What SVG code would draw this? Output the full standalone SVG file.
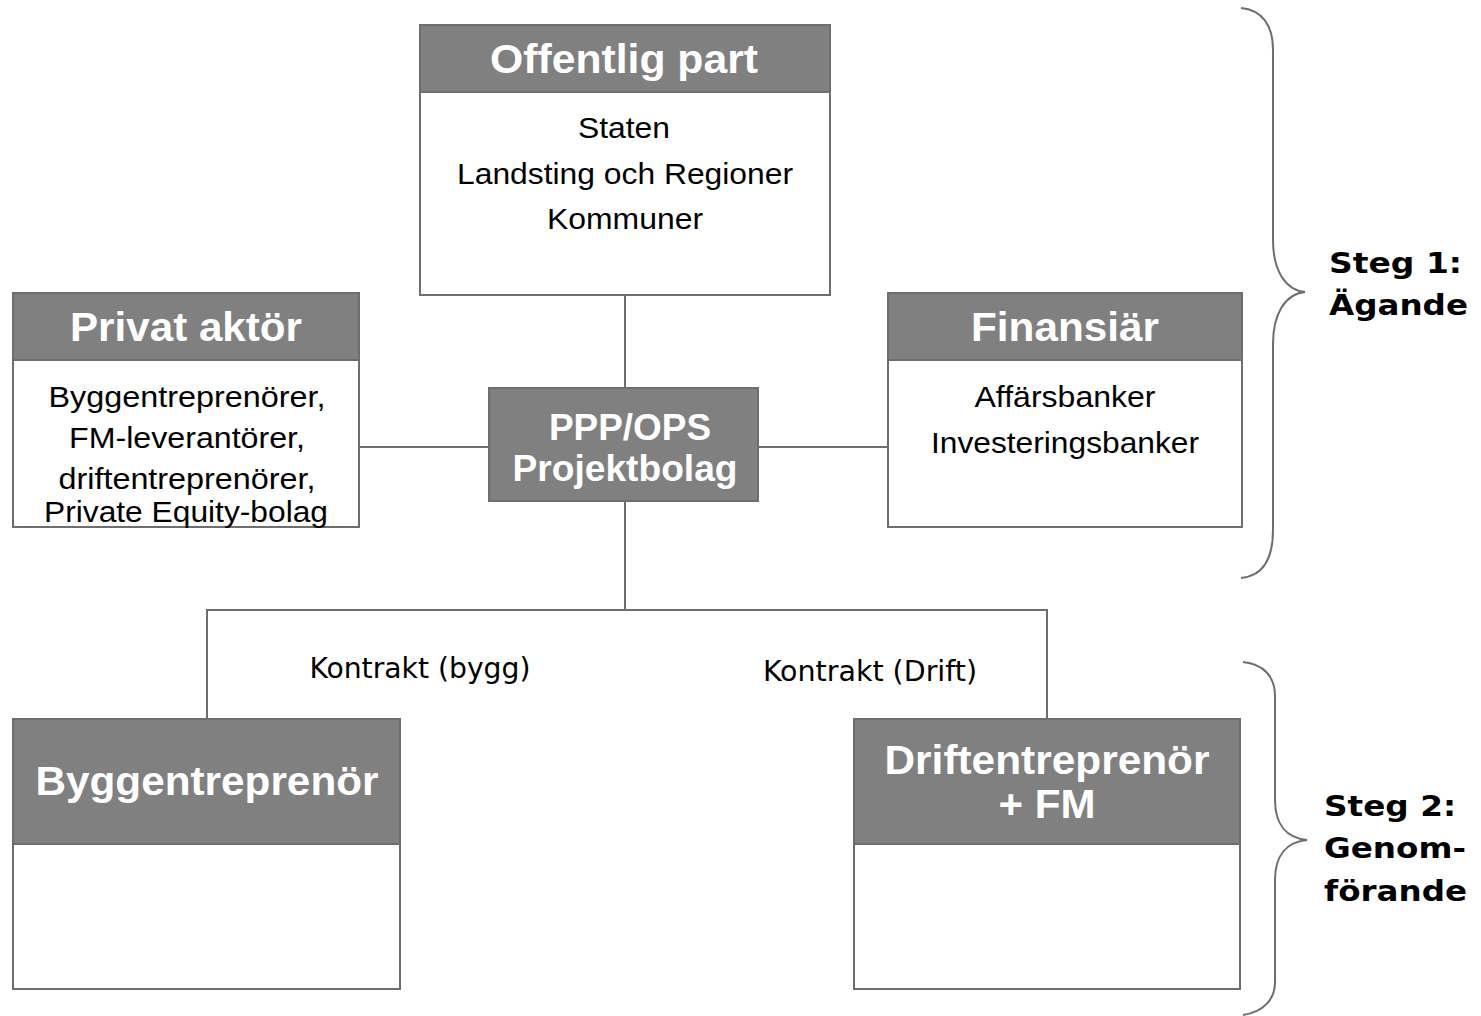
<svg xmlns="http://www.w3.org/2000/svg" width="1481" height="1016" viewBox="0 0 1481 1016">
<style>
.box{fill:#fff;stroke:#6e6e6e;stroke-width:2}
.hdr{fill:#808080;stroke:#6e6e6e;stroke-width:2}
.ht{font-family:"Liberation Sans",Arial,sans-serif;font-weight:bold;font-size:40px;fill:#fff;text-anchor:middle}
.pt{font-family:"Liberation Sans",Arial,sans-serif;font-weight:bold;font-size:36px;fill:#fff;text-anchor:middle}
.bt{font-family:"Liberation Sans",Arial,sans-serif;font-size:30px;fill:#000;text-anchor:middle}
.lbl{font-family:"DejaVu Sans Condensed","DejaVu Sans",sans-serif;font-size:28px;fill:#000;text-anchor:middle}
.steg{font-family:"DejaVu Sans",Verdana,sans-serif;font-weight:bold;font-size:28px;fill:#000}
.con{stroke:#6e6e6e;stroke-width:2;fill:none}
.brace{stroke:#6e6e6e;stroke-width:2;fill:none}
</style>
<g id="connectors">
<path class="con" d="M625 295 V388"/>
<path class="con" d="M359 447 H489"/>
<path class="con" d="M758 447 H888"/>
<path class="con" d="M625 501 V610"/>
<path class="con" d="M207 719 V610 H1047 V719"/>
</g>
<g id="offentlig">
<rect class="box" x="420" y="25" width="410" height="270"/>
<rect class="hdr" x="420" y="25" width="410" height="67"/>
<text class="ht" x="624" y="73" textLength="268" lengthAdjust="spacingAndGlyphs">Offentlig part</text>
<text class="bt" x="624" y="138" textLength="92" lengthAdjust="spacingAndGlyphs">Staten</text>
<text class="bt" x="625" y="184" textLength="336" lengthAdjust="spacingAndGlyphs">Landsting och Regioner</text>
<text class="bt" x="625" y="229" textLength="156" lengthAdjust="spacingAndGlyphs">Kommuner</text>
</g>
<g id="privat">
<rect class="box" x="13" y="293" width="346" height="234"/>
<rect class="hdr" x="13" y="293" width="346" height="67"/>
<text class="ht" x="186" y="341" textLength="232" lengthAdjust="spacingAndGlyphs">Privat aktör</text>
<text class="bt" x="187" y="407" textLength="277" lengthAdjust="spacingAndGlyphs">Byggentreprenörer,</text>
<text class="bt" x="187" y="448" textLength="236" lengthAdjust="spacingAndGlyphs">FM-leverantörer,</text>
<text class="bt" x="187" y="489" textLength="257" lengthAdjust="spacingAndGlyphs">driftentreprenörer,</text>
<text class="bt" x="186" y="522" textLength="284" lengthAdjust="spacingAndGlyphs">Private Equity-bolag</text>
</g>
<g id="finansiar">
<rect class="box" x="888" y="293" width="354" height="234"/>
<rect class="hdr" x="888" y="293" width="354" height="67"/>
<text class="ht" x="1065" y="341" textLength="188" lengthAdjust="spacingAndGlyphs">Finansiär</text>
<text class="bt" x="1065" y="407" textLength="181" lengthAdjust="spacingAndGlyphs">Affärsbanker</text>
<text class="bt" x="1065" y="453" textLength="268" lengthAdjust="spacingAndGlyphs">Investeringsbanker</text>
</g>
<g id="ppp">
<rect class="hdr" x="489" y="388" width="269" height="113"/>
<text class="pt" x="630" y="440" textLength="162" lengthAdjust="spacingAndGlyphs">PPP/OPS</text>
<text class="pt" x="625" y="481" textLength="225" lengthAdjust="spacingAndGlyphs">Projektbolag</text>
</g>
<g id="bygg">
<rect class="box" x="13" y="719" width="387" height="270"/>
<rect class="hdr" x="13" y="719" width="387" height="125"/>
<text class="ht" x="207" y="795" textLength="343" lengthAdjust="spacingAndGlyphs">Byggentreprenör</text>
</g>
<g id="drift">
<rect class="box" x="854" y="719" width="386" height="270"/>
<rect class="hdr" x="854" y="719" width="386" height="125"/>
<text class="ht" x="1047" y="774" textLength="325" lengthAdjust="spacingAndGlyphs">Driftentreprenör</text>
<text class="ht" x="1047" y="818" textLength="97" lengthAdjust="spacingAndGlyphs">+ FM</text>
</g>
<g id="labels">
<text class="lbl" x="420" y="678" textLength="221" lengthAdjust="spacingAndGlyphs">Kontrakt (bygg)</text>
<text class="lbl" x="870" y="681" textLength="214" lengthAdjust="spacingAndGlyphs">Kontrakt (Drift)</text>
</g>
<g id="steg1">
<path class="brace" d="M1241 8 C1262 10 1273 25 1273 50 V240 C1273 270 1285 290 1305 292 C1285 294 1273 314 1273 344 V530 C1273 560 1262 576 1241 578"/>
<text class="steg" x="1329" y="273" textLength="133" lengthAdjust="spacingAndGlyphs">Steg 1:</text>
<text class="steg" x="1329" y="315" textLength="139" lengthAdjust="spacingAndGlyphs">Ägande</text>
</g>
<g id="steg2">
<path class="brace" d="M1243 662 C1263 664 1275 676 1275 696 V800 C1275 825 1287 838 1307 840 C1287 842 1275 855 1275 880 V982 C1275 1000 1263 1012 1243 1015"/>
<text class="steg" x="1324" y="816" textLength="132" lengthAdjust="spacingAndGlyphs">Steg 2:</text>
<text class="steg" x="1324" y="858" textLength="142" lengthAdjust="spacingAndGlyphs">Genom-</text>
<text class="steg" x="1324" y="901" textLength="143" lengthAdjust="spacingAndGlyphs">förande</text>
</g>
</svg>
